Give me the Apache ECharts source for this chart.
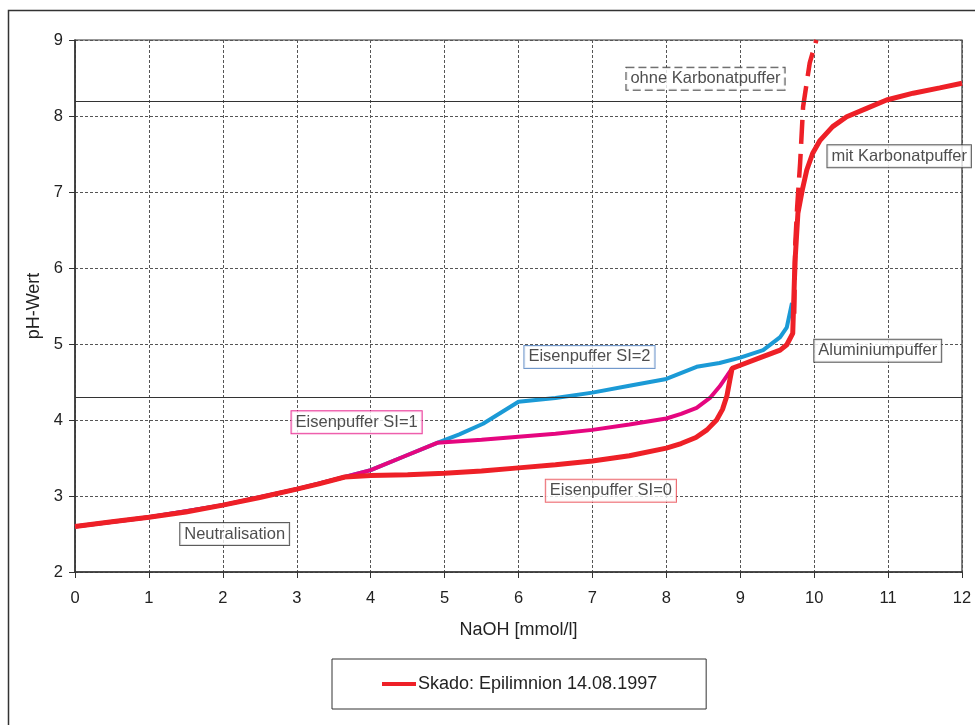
<!DOCTYPE html>
<html>
<head>
<meta charset="utf-8">
<script src="https://cdn.jsdelivr.net/npm/echarts@6/dist/echarts.min.js"></script>
<style>
html,body{margin:0;padding:0;background:#fff;}
#chart{width:975px;height:725px;}
</style>
</head>
<body>
<div id="chart"></div>
<script>
// ---- data ----
var xTicks = [0,1,2,3,4,5,6,7,8,9,10,11,12];
var yTicks = [2,3,4,5,6,7,8,9];

// Skado: Epilimnion 14.08.1997 (Eisenpuffer SI=0, mit Karbonatpuffer)
var redX = [0,0.5,1,1.5,2,2.5,3,3.3,3.65,4,4.5,5,5.5,6,6.5,7,7.5,8,8.2,8.4,8.55,8.68,8.76,8.82,8.86,8.89,9.0,9.27,9.54,9.63,9.71,9.74,9.78,9.84,9.90,9.98,10.08,10.25,10.44,10.71,10.98,11.34,11.70,12];
var redY = [2.6,2.66,2.72,2.79,2.88,2.98,3.09,3.16,3.25,3.27,3.28,3.30,3.33,3.37,3.41,3.46,3.53,3.63,3.69,3.77,3.87,4.0,4.14,4.32,4.53,4.68,4.72,4.82,4.92,4.99,5.14,6.07,6.72,7.03,7.29,7.51,7.68,7.86,7.99,8.10,8.21,8.30,8.37,8.43];

// ohne Karbonatpuffer (dashed)
var dashX = [9.73,9.745,9.77,9.81,9.85,9.94,10.03];
var dashY = [5.4,6.33,6.8,7.38,8.12,8.70,9.0];

// Eisenpuffer SI=1
var siOneX = [0,1,2,3,3.65,4.0,4.45,4.9,5.5,6.0,6.5,7.0,7.5,8.0,8.2,8.41,8.59,8.72,8.82,8.89];
var siOneY = [2.6,2.72,2.88,3.09,3.25,3.34,3.52,3.70,3.74,3.78,3.82,3.87,3.94,4.02,4.08,4.16,4.29,4.44,4.58,4.68];

// Eisenpuffer SI=2
var siTwoX = [0,1,2,3,3.65,4.0,4.45,4.9,5.2,5.52,6.0,6.5,7.0,7.5,8.0,8.41,8.72,9.0,9.31,9.54,9.63,9.70];
var siTwoY = [2.6,2.72,2.88,3.09,3.25,3.34,3.52,3.70,3.81,3.95,4.24,4.29,4.36,4.45,4.54,4.70,4.75,4.82,4.92,5.09,5.22,5.54];

// horizontal reference lines
var refLines = [8.2, 4.3];

// annotation labels
var noteText = ['ohne Karbonatpuffer','mit Karbonatpuffer','Aluminiumpuffer','Eisenpuffer SI=2','Eisenpuffer SI=1','Eisenpuffer SI=0','Neutralisation'];
var noteX = [8.53, 11.15, 10.86, 6.96, 3.81, 7.25, 2.16];
var noteY = [8.49, 7.47, 4.91, 4.83, 3.97, 3.07, 2.50];
var noteBorder = ['#222','#333','#333','#4f7fbf','#e5067f','#e8474f','#333'];
var noteBorderType = ['dashed','solid','solid','solid','solid','solid','solid'];

var legendName = 'Skado: Epilimnion 14.08.1997';

function zip(xs, ys){ return xs.map(function(v,i){ return [v, ys[i]]; }); }

var FONT = '"Liberation Sans", Arial, sans-serif';
var chart = echarts.init(document.getElementById('chart'), null, {renderer:'canvas'});

var notes = noteText.map(function(t,i){
  return {
    value:[noteX[i], noteY[i]],
    label:{
      show:true, position:'inside', formatter:t,
      color:'#222', fontSize:16.5, fontFamily:FONT,
      backgroundColor:'#fff', borderColor:noteBorder[i], borderWidth:1,
      borderType:noteBorderType[i], padding:[3,4,2,4]
    }
  };
});

chart.setOption({
  animation:false,
  backgroundColor:'#fff',
  textStyle:{fontFamily:FONT},
  grid:{left:75, right:13, top:40, height:532, show:true, borderColor:'#333', borderWidth:1.2, backgroundColor:'transparent'},
  legend:{
    data:[{name:legendName}],
    left:332, top:659,
    padding:[16,49,16,50],
    borderColor:'#333', borderWidth:1,
    icon:'rect', itemWidth:34, itemHeight:4, itemGap:0,
    textStyle:{color:'#222', fontSize:18, fontFamily:FONT, padding:[0,0,0,-3]},
    selectedMode:false
  },
  graphic:[{
    type:'rect', left:6, top:8, silent:true,
    shape:{width:1100, height:900},
    style:{fill:'none', stroke:'#333', lineWidth:1.5}
  }],
  xAxis:{
    type:'value', min:0, max:12, interval:1,
    name:'NaOH [mmol/l]', nameLocation:'middle', nameGap:49,
    nameTextStyle:{fontSize:18, color:'#222', fontFamily:FONT},
    axisLine:{lineStyle:{color:'#333', width:1.5}},
    axisTick:{show:true, length:6, lineStyle:{color:'#333'}},
    axisLabel:{color:'#222', fontSize:16.5, margin:18, fontFamily:FONT,
      formatter:function(v){ return xTicks.indexOf(v) >= 0 ? String(v) : ''; }},
    splitLine:{show:true, lineStyle:{color:'#555', width:1, type:[3,2]}}
  },
  yAxis:{
    type:'value', min:2, max:9, interval:1,
    name:'pH-Wert', nameLocation:'middle', nameGap:32,
    nameTextStyle:{fontSize:18, color:'#222', fontFamily:FONT},
    axisLine:{show:true, lineStyle:{color:'#333', width:1.5}},
    axisTick:{show:true, length:6, lineStyle:{color:'#333'}},
    axisLabel:{color:'#222', fontSize:16.5, margin:12, fontFamily:FONT,
      formatter:function(v){ return yTicks.indexOf(v) >= 0 ? String(v) : ''; }},
    splitLine:{show:true, lineStyle:{color:'#555', width:1, type:[3,2]}}
  },
  series:[
    {
      name:'Eisenpuffer SI=2', type:'line', data:zip(siTwoX, siTwoY),
      showSymbol:false, symbol:'none', smooth:false, z:2,
      lineStyle:{color:'#1b9ad6', width:4}, itemStyle:{color:'#1b9ad6'},
      markLine:{
        silent:true, symbol:['none','none'], label:{show:false},
        lineStyle:{color:'#333', width:1.2, type:'solid'},
        data:refLines.map(function(v){ return {yAxis:v}; })
      }
    },
    {
      name:'Eisenpuffer SI=1', type:'line', data:zip(siOneX, siOneY),
      showSymbol:false, symbol:'none', smooth:false, z:3,
      lineStyle:{color:'#e5067f', width:4}, itemStyle:{color:'#e5067f'}
    },
    {
      name:'ohne Karbonatpuffer', type:'line', data:zip(dashX, dashY),
      showSymbol:false, symbol:'none', smooth:false, z:4,
      lineStyle:{color:'#ee2027', width:4.5, type:[24,10]}, itemStyle:{color:'#ee2027'}
    },
    {
      name:legendName, type:'line', data:zip(redX, redY),
      showSymbol:false, symbol:'none', smooth:false, z:5,
      lineStyle:{color:'#ee2027', width:5}, itemStyle:{color:'#ee2027'}
    },
    {
      name:'notes', type:'scatter', data:notes, symbolSize:0, z:10, silent:true,
      itemStyle:{color:'transparent'}
    }
  ]
});
</script>
</body>
</html>
